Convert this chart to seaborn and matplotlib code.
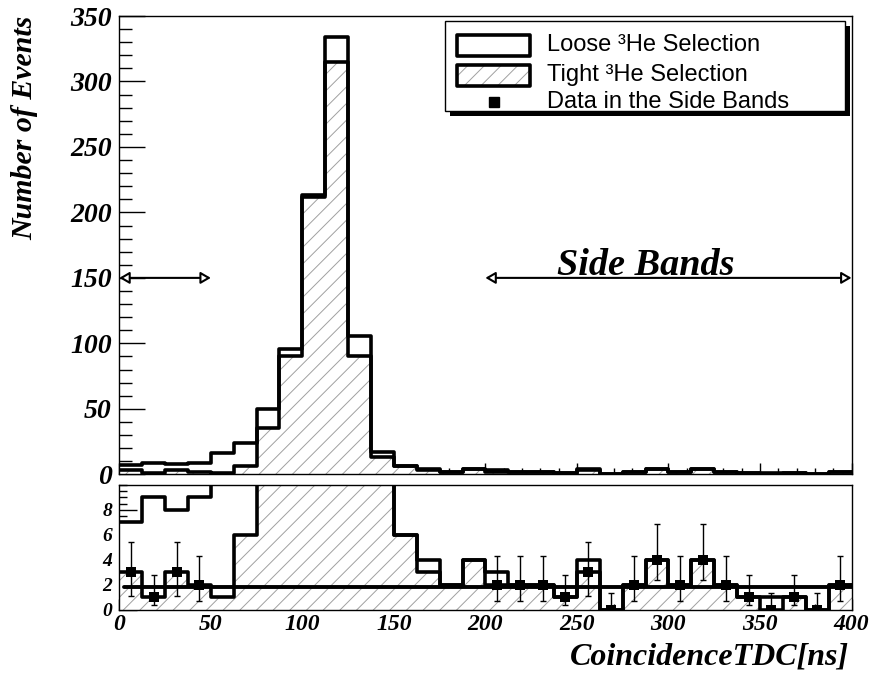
import numpy as np
import pandas as pd
import matplotlib
matplotlib.use("Agg")
import matplotlib.pyplot as plt
import seaborn as sns
from matplotlib.patches import Rectangle
from matplotlib.lines import Line2D
from matplotlib.ticker import MultipleLocator, FixedLocator

# ---------------- data ----------------
bin_edges = [i * 12.5 for i in range(33)]
loose_counts = [7, 9, 8, 9, 16, 24, 50, 96, 213, 334, 106, 17, 6, 4, 2, 4,
                3, 2, 2, 1, 4, 0, 2, 4, 2, 4, 2, 1, 1, 1, 0, 2]
tight_counts = [3, 1, 3, 2, 1, 6, 35, 90, 212, 315, 90, 13, 6, 3, 2, 4,
                2, 2, 2, 1, 3, 0, 2, 4, 2, 4, 2, 1, 0, 1, 0, 2]
side_bins = [0, 1, 2, 3] + list(range(16, 32))
side_counts = [3, 1, 3, 2, 2, 2, 2, 1, 3, 0, 2, 4, 2, 4, 2, 1, 0, 1, 0, 2]
side_err_low = [1.9, 0.6, 1.9, 1.3, 1.3, 1.3, 1.3, 0.6, 1.9, 0.0,
                1.3, 1.64, 1.3, 1.64, 1.3, 0.6, 0.0, 0.6, 0.0, 1.3]
side_err_high = [2.4, 1.75, 2.4, 2.3, 2.3, 2.3, 2.3, 1.75, 2.4, 1.3,
                 2.3, 2.9, 2.3, 2.9, 2.3, 1.75, 1.3, 1.75, 1.3, 2.3]
fit_x = [2.5, 400.0]
fit_level = 1.78
left_band = [0, 50]
right_band = [200, 400]
band_y = 150
band_label = "Side Bands"
legend_labels = ["Loose \u00b3He Selection", "Tight \u00b3He Selection",
                 "Data in the Side Bands"]
x_ticks = [0, 50, 100, 150, 200, 250, 300, 350, 400]
upper_yticks = [0, 50, 100, 150, 200, 250, 300, 350]
lower_yticks = [0, 2, 4, 6, 8]
x_title = "CoincidenceTDC[ns]"
y_title = "Number of Events"

# ---------------- style ----------------
sns.set_style("ticks")
plt.rcParams["font.family"] = ["Liberation Serif", "DejaVu Serif"]
plt.rcParams["font.weight"] = "bold"
plt.rcParams["font.style"] = "italic"
plt.rcParams["axes.edgecolor"] = "black"
plt.rcParams["axes.linewidth"] = 1.0
plt.rcParams["xtick.color"] = "black"
plt.rcParams["ytick.color"] = "black"
plt.rcParams["text.color"] = "black"
plt.rcParams["hatch.linewidth"] = 0.7

W, H = 869, 685
fig = plt.figure(figsize=(W / 100, H / 100), dpi=100)
fig.patch.set_facecolor("white")


def fx(px):
    return px / W


def fy(py):
    return 1 - py / H


L, R = 119.3, 851.5
ax1 = fig.add_axes([fx(L), fy(474.3), (R - L) / W, (474.3 - 16) / H])
ax2 = fig.add_axes([fx(L), fy(609.5), (R - L) / W, (609.5 - 485) / H])

centers = [(a + b) / 2 for a, b in zip(bin_edges[:-1], bin_edges[1:])]
hist_df = pd.DataFrame({"t": centers, "loose": loose_counts, "tight": tight_counts})
HATCH_GREY = "#a0a0a0"
LW = 2.6


def draw_hists(ax):
    sns.histplot(data=hist_df, x="t", weights="loose", bins=bin_edges, element="step",
                 fill=True, facecolor="white", edgecolor="white", linewidth=0,
                 alpha=1, ax=ax, zorder=1.0)
    sns.histplot(data=hist_df, x="t", weights="tight", bins=bin_edges, element="step",
                 fill=True, facecolor="white", edgecolor=HATCH_GREY, hatch="//",
                 linewidth=0, alpha=1, ax=ax, zorder=1.1)
    sns.histplot(data=hist_df, x="t", weights="loose", bins=bin_edges, element="step",
                 fill=False, color="black", linewidth=LW, ax=ax, zorder=1.3)
    sns.histplot(data=hist_df, x="t", weights="tight", bins=bin_edges, element="step",
                 fill=False, color="black", linewidth=LW, ax=ax, zorder=1.4)
    ax.set_xlabel("")
    ax.set_ylabel("")


draw_hists(ax1)
draw_hists(ax2)

# fit line and side-band data in the lower panel
sns.lineplot(x=fit_x, y=[fit_level, fit_level], color="black", linewidth=2.8,
             ax=ax2, zorder=1.6)
side_x = [centers[i] for i in side_bins]
ax2.errorbar(side_x, side_counts, yerr=[side_err_low, side_err_high], fmt="none",
             ecolor="black", elinewidth=1.0, capsize=2.5, capthick=1.0, zorder=1.8)
sns.scatterplot(x=side_x, y=side_counts, marker="s", s=62, color="black",
                edgecolor="black", linewidth=0, ax=ax2, zorder=2.0, legend=False)

# axes settings
for ax in (ax1, ax2):
    ax.set_xlim(0, 400)
    ax.set_axisbelow(True)
    ax.xaxis.set_major_locator(FixedLocator(x_ticks))
    ax.xaxis.set_minor_locator(MultipleLocator(10))
    for s in ax.spines.values():
        s.set_visible(True)
        s.set_linewidth(1.0)
        s.set_zorder(2.5)
    ax.tick_params(which="both", direction="in", top=False, right=False, width=1.0)

ax1.set_ylim(0, 350)
ax1.yaxis.set_major_locator(FixedLocator(upper_yticks))
ax1.yaxis.set_minor_locator(MultipleLocator(10))
ax1.tick_params(axis="y", which="major", length=19, labelsize=20, pad=5.5)
ax1.tick_params(axis="y", which="minor", length=9.5)
ax1.tick_params(axis="x", which="major", length=8, labelbottom=False)
ax1.tick_params(axis="x", which="minor", length=4)

ax2.set_ylim(0, 10)
ax2.yaxis.set_major_locator(FixedLocator(lower_yticks))
ax2.yaxis.set_minor_locator(MultipleLocator(0.5))
ax2.tick_params(axis="y", which="major", length=13, labelsize=14, pad=5)
ax2.tick_params(axis="y", which="minor", length=6)
ax2.tick_params(axis="x", which="major", length=8, labelsize=17, pad=3.2)
ax2.tick_params(axis="x", which="minor", length=4)

# side band arrows and label
arrow_kw = dict(arrowstyle="<|-|>,head_length=0.6,head_width=0.35", lw=1.5,
                ec="black", fc="white", shrinkA=0, shrinkB=0)
ax1.annotate("", xy=(left_band[0], band_y), xytext=(left_band[1], band_y),
             arrowprops=arrow_kw, zorder=3)
ax1.annotate("", xy=(right_band[0], band_y), xytext=(right_band[1], band_y),
             arrowprops=arrow_kw, zorder=3)
ax1.text(287.5, 152, band_label, ha="center", va="baseline", fontsize=27.5,
         fontweight="bold", fontstyle="italic", zorder=3)

# titles
fig.text(fx(849), fy(657), x_title, ha="right", va="center", fontsize=23,
         fontweight="bold", fontstyle="italic")
fig.text(fx(25), fy(16), y_title, rotation=90, ha="center", va="top", fontsize=21.5,
         fontweight="bold", fontstyle="italic")

# ---------------- legend (ROOT style box with shadow) ----------------
bx0, bx1, by0, by1 = 445, 845, 21, 111
fig.patches.append(Rectangle((fx(bx0 + 5), fy(by1 + 5)), (bx1 - bx0) / W, (by1 - by0) / H,
                             transform=fig.transFigure, facecolor="black",
                             edgecolor="black", lw=0, zorder=10))
fig.patches.append(Rectangle((fx(bx0), fy(by1)), (bx1 - bx0) / W, (by1 - by0) / H,
                             transform=fig.transFigure, facecolor="white",
                             edgecolor="black", lw=1.0, zorder=11))
row_y = [45, 75, 102]
sx0, sx1, sh = 457, 530, 21
fig.patches.append(Rectangle((fx(sx0), fy(row_y[0] + sh / 2)), (sx1 - sx0) / W, sh / H,
                             transform=fig.transFigure, facecolor="white",
                             edgecolor="black", lw=LW, joinstyle="round", zorder=12))
fig.patches.append(Rectangle((fx(sx0), fy(row_y[1] + sh / 2)), (sx1 - sx0) / W, sh / H,
                             transform=fig.transFigure, facecolor="white",
                             edgecolor=HATCH_GREY, hatch="//", lw=0, zorder=12))
fig.patches.append(Rectangle((fx(sx0), fy(row_y[1] + sh / 2)), (sx1 - sx0) / W, sh / H,
                             transform=fig.transFigure, facecolor="none",
                             edgecolor="black", lw=LW, joinstyle="round", zorder=13))
fig.lines.append(Line2D([fx((sx0 + sx1) / 2)], [fy(row_y[2])], marker="s",
                        markersize=7.8, color="black", linestyle="none",
                        transform=fig.transFigure, zorder=12))
for yy, lab in zip(row_y, legend_labels):
    fig.text(fx(547), fy(yy), lab, ha="left", va="center", fontsize=17,
             family=["Liberation Sans", "DejaVu Sans"], fontweight="normal",
             fontstyle="normal", zorder=14)

fig.savefig("out.png", dpi=100, facecolor="white")
